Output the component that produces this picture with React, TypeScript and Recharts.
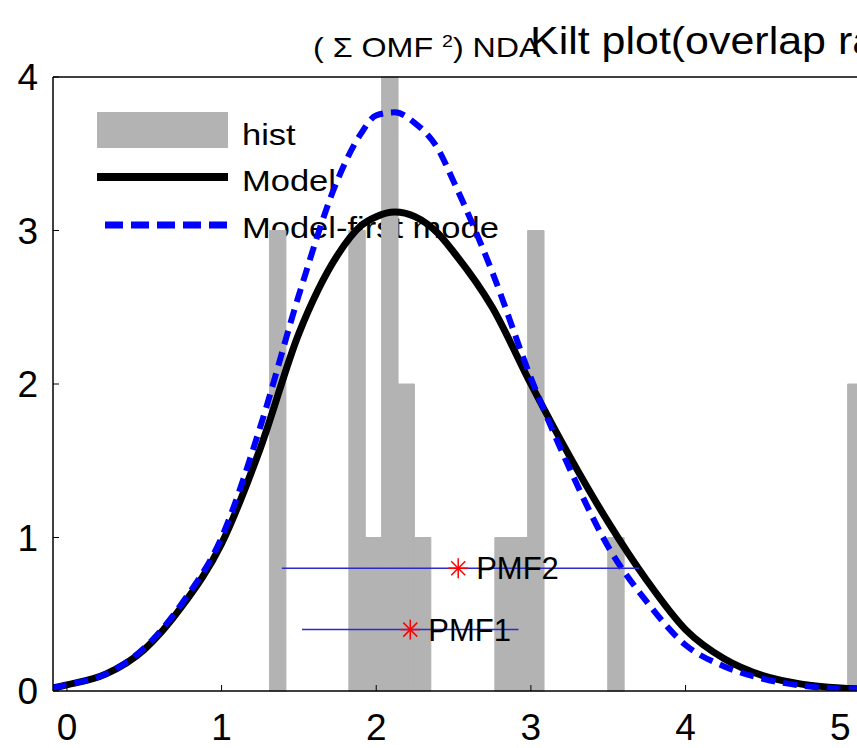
import React from 'react';
import {
    ComposedChart, Line, XAxis, YAxis, ReferenceArea, ReferenceLine, Scatter,
} from 'recharts';

// model curves
const sampleX = [-0.09, 0, 0.25, 0.5, 0.75, 1.0, 1.25, 1.5, 1.75, 1.9, 2.0, 2.12, 2.25, 2.4, 2.5, 2.75, 3.0, 3.25, 3.5, 3.75, 4.0, 4.25, 4.5, 4.75, 5.0, 5.3, 5.6];
const modelY = [0.02, 0.04, 0.11, 0.27, 0.56, 0.96, 1.58, 2.33, 2.84, 3.03, 3.09, 3.12, 3.09, 2.98, 2.86, 2.5, 2.0, 1.53, 1.1, 0.72, 0.4, 0.21, 0.1, 0.045, 0.02, 0.01, 0.005];
const firstModeY = [0.02, 0.04, 0.11, 0.28, 0.58, 1.0, 1.72, 2.58, 3.33, 3.63, 3.75, 3.77, 3.7, 3.53, 3.32, 2.73, 2.04, 1.45, 0.94, 0.58, 0.3, 0.16, 0.08, 0.035, 0.015, 0.008, 0.004];

// histogram
const binWidth = 0.106;
const binCenters = [1.363, 1.876, 1.982, 2.088, 2.194, 2.3, 2.82, 2.926, 3.032, 3.55, 5.101];
const binCounts = [3, 3, 1, 4, 2, 1, 1, 1, 3, 1, 2];

// PMF markers with their ranges
const pmfNames = ['PMF1', 'PMF2'];
const pmfCenter = [2.22, 2.53];
const pmfLow = [1.52, 1.39];
const pmfHigh = [2.92, 3.7];
const pmfLevel = [0.4, 0.8];

const xTicks = [0, 1, 2, 3, 4, 5];
const yTicks = [0, 1, 2, 3, 4];

const curveData = sampleX.map((x, i) => ({ x, model: modelY[i], firstMode: firstModeY[i] }));
const pmfData = pmfNames.map((name, i) => ({ x: pmfCenter[i], y: pmfLevel[i], name }));

const FONT = '"Liberation Sans", Arial, sans-serif';
const GRAY = '#b3b3b3';
const BLUE = '#0000ff';
const PMF_BLUE = '#2a2ad0';

const PmfMarker = (props: any) => {
    const { cx, cy, payload } = props;
    const r = 10;
    const d = 7;
    return (
        <g>
            <line x1={cx - r} y1={cy} x2={cx + r} y2={cy} stroke="#ff0000" strokeWidth={1.5} />
            <line x1={cx} y1={cy - r} x2={cx} y2={cy + r} stroke="#ff0000" strokeWidth={1.5} />
            <line x1={cx - d} y1={cy - d} x2={cx + d} y2={cy + d} stroke="#ff0000" strokeWidth={1.5} />
            <line x1={cx - d} y1={cy + d} x2={cx + d} y2={cy - d} stroke="#ff0000" strokeWidth={1.5} />
            <text x={cx + 18} y={cy + 11} fontSize={31} fontFamily={FONT} fill="#000">
                {payload.name}
            </text>
        </g>
    );
};

const legendText: React.CSSProperties = {
    position: 'absolute', left: 242, fontSize: 30, lineHeight: 1, fontFamily: FONT,
    color: '#000', transform: 'scaleX(1.15)', transformOrigin: 'left', whiteSpace: 'nowrap',
};

const App: React.FC = () => {
    return (
        <div style={{ position: 'fixed', left: 0, top: 0, width: 857, height: 748, overflow: 'hidden', background: '#fff' }}>
            {/* title (two overlapping strings, as in the source figure) */}
            <div style={{ position: 'absolute', left: 313, top: 33, fontSize: 28, lineHeight: 1, fontFamily: FONT, whiteSpace: 'nowrap', transform: 'scaleX(1.15)', transformOrigin: 'left' }}>
                ( Σ OMF <sup style={{ fontSize: 17 }}>2</sup>) NDA
            </div>
            <div style={{ position: 'absolute', left: 530, top: 22, fontSize: 38, lineHeight: 1, fontFamily: FONT, whiteSpace: 'nowrap', transform: 'scaleX(1.13)', transformOrigin: 'left' }}>
                Kilt plot(overlap ratio)
            </div>

            {/* legend, drawn under the curves */}
            <svg style={{ position: 'absolute', left: 0, top: 0 }} width={857} height={748}>
                <rect x={97} y={112} width={131} height={36} fill={GRAY} />
                <line x1={97} y1={177} x2={228} y2={177} stroke="#000" strokeWidth={8} />
                <line x1={105} y1={225} x2={228} y2={225} stroke={BLUE} strokeWidth={7} strokeDasharray="18 8" />
            </svg>
            <div style={{ ...legendText, top: 120 }}>hist</div>
            <div style={{ ...legendText, top: 166 }}>Model</div>
            <div style={{ ...legendText, top: 213 }}>Model-first mode</div>

            <div style={{ position: 'absolute', left: 0, top: 0 }}>
                <ComposedChart width={960} height={748} data={curveData} margin={{ top: 76, right: 27, bottom: 0, left: 0 }}>
                    <XAxis
                        xAxisId="top" orientation="top" type="number" domain={[-0.09, 5.6]} ticks={xTicks}
                        height={1} tick={false} tickSize={-6} allowDataOverflow
                        axisLine={{ stroke: '#000', strokeWidth: 1.5 }} tickLine={{ stroke: '#000' }}
                    />
                    <XAxis
                        dataKey="x" type="number" domain={[-0.09, 5.6]} ticks={xTicks} height={57}
                        tickSize={-6} tickMargin={29} allowDataOverflow
                        axisLine={{ stroke: '#000', strokeWidth: 1.5 }} tickLine={{ stroke: '#000' }}
                        tick={{ fill: '#000', fontSize: 37, fontFamily: FONT }}
                    />
                    <YAxis
                        type="number" domain={[0, 4]} ticks={yTicks} width={53}
                        tickSize={-6} tickMargin={21} allowDataOverflow
                        axisLine={{ stroke: '#000', strokeWidth: 1.5 }} tickLine={{ stroke: '#000' }}
                        tick={{ fill: '#000', fontSize: 37, fontFamily: FONT }}
                    />

                    {binCenters.map((c, i) => (
                        <ReferenceArea
                            key={`bin-${i}`}
                            x1={c - binWidth / 2}
                            x2={c + binWidth / 2}
                            y1={0}
                            y2={binCounts[i]}
                            fill={GRAY}
                            fillOpacity={1}
                            stroke={GRAY}
                            strokeWidth={1}
                        />
                    ))}

                    <Line
                        type="monotone" dataKey="model" stroke="#000" strokeWidth={7}
                        dot={false} activeDot={false} isAnimationActive={false}
                    />
                    <Line
                        type="monotone" dataKey="firstMode" stroke={BLUE} strokeWidth={6}
                        strokeDasharray="14 8" dot={false} activeDot={false} isAnimationActive={false}
                    />

                    {pmfNames.map((name, i) => (
                        <ReferenceLine
                            key={name}
                            segment={[{ x: pmfLow[i], y: pmfLevel[i] }, { x: pmfHigh[i], y: pmfLevel[i] }]}
                            stroke={PMF_BLUE}
                            strokeWidth={1.5}
                        />
                    ))}
                    <Scatter data={pmfData} dataKey="y" shape={PmfMarker} isAnimationActive={false} />
                </ComposedChart>
            </div>
        </div>
    );
};

export default App;
